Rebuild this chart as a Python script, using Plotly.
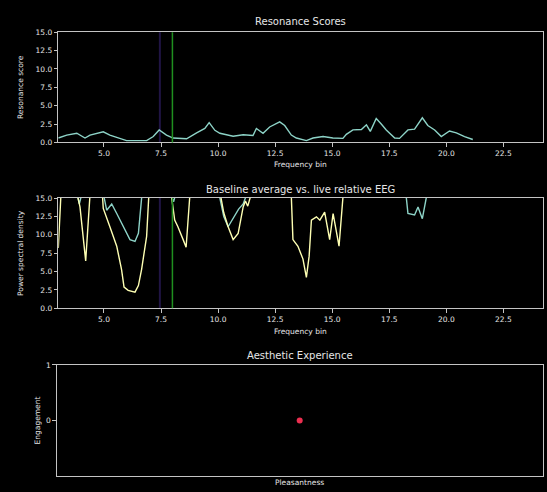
import plotly.graph_objects as go

# ---- data -------------------------------------------------------------
# Resonance score per frequency bin
res_freq = [3.00, 3.37, 3.81, 4.17, 4.39, 4.97, 5.26, 5.70, 5.99, 6.87, 7.16, 7.42,
            7.74, 8.03, 8.62, 9.06, 9.42, 9.61, 9.86, 10.08, 10.66, 11.10, 11.53,
            11.68, 11.97, 12.26, 12.56, 12.70, 12.92, 13.21, 13.43, 13.87, 14.16,
            14.60, 15.03, 15.47, 15.62, 15.91, 16.28, 16.50, 16.67, 16.93, 17.15,
            17.37, 17.74, 17.95, 18.32, 18.61, 18.95, 19.19, 19.49, 19.78, 20.14,
            20.44, 20.80, 21.16]
res_score = [0.6, 1.0, 1.25, 0.6, 1.0, 1.45, 1.0, 0.55, 0.25, 0.25, 0.8, 1.7,
             1.0, 0.6, 0.5, 1.3, 1.9, 2.7, 1.65, 1.25, 0.85, 1.05, 0.95,
             1.9, 1.25, 2.1, 2.6, 2.8, 2.3, 1.0, 0.6, 0.25, 0.6,
             0.8, 0.6, 0.55, 1.1, 1.7, 1.75, 2.4, 1.5, 3.25, 2.5,
             1.7, 0.6, 0.55, 1.7, 1.8, 3.35, 2.3, 1.7, 0.8, 1.55,
             1.3, 0.8, 0.4]

# Baseline average power spectral density
base_freq = [3.00, 3.70, 3.85, 3.92, 4.00, 4.10, 4.90, 5.00, 5.12, 5.34, 5.56, 5.84,
             6.14, 6.36, 6.51, 6.65, 6.80, 7.90, 7.97, 8.05, 8.12, 8.30, 9.90,
             10.08, 10.25, 10.44, 10.71, 10.90, 11.10, 11.22, 11.40, 18.10, 18.25,
             18.32, 18.61, 18.76, 18.95, 19.12, 19.30, 21.20]
base_psd = [20.0, 22.0, 15.2, 14.2, 15.2, 22.0, 22.0, 15.2, 13.35, 14.2, 12.9, 11.1,
            9.35, 9.1, 10.2, 15.0, 24.0, 22.0, 15.1, 14.5, 15.3, 22.0, 22.0,
            15.0, 12.5, 11.1, 12.5, 13.5, 14.2, 15.2, 22.0, 22.0, 15.0,
            12.9, 12.7, 13.8, 12.2, 15.0, 22.0, 22.0]

# Live relative power spectral density
live_freq = [3.00, 3.12, 3.25, 3.70, 3.83, 3.95, 4.20, 4.39, 4.55, 4.80, 4.92, 4.97,
             5.26, 5.56, 5.77, 5.88, 6.06, 6.36, 6.51, 6.65, 6.87, 7.01, 7.15,
             7.80, 7.96, 8.10, 8.24, 8.47, 8.60, 8.76, 8.90, 9.90, 10.10, 10.25,
             10.44, 10.66, 10.88, 11.10, 11.20, 11.30, 11.42, 11.50, 13.00, 13.21,
             13.28, 13.50, 13.72, 13.87, 13.99, 14.09, 14.31, 14.46, 14.67, 14.89,
             15.04, 15.30, 15.40, 15.55, 15.70, 21.20]
live_psd = [8.2, 15.0, 24.0, 26.0, 15.5, 13.8, 6.45, 15.5, 24.0, 22.0, 15.5, 13.6,
            11.1, 8.45, 5.3, 2.9, 2.45, 2.2, 3.1, 5.3, 9.8, 15.0, 26.0,
            24.0, 15.2, 12.0, 11.1, 9.35, 8.3, 15.2, 26.0, 24.0, 15.5, 13.0,
            11.1, 9.35, 10.2, 13.8, 14.6, 13.9, 15.2, 25.0, 25.0, 15.2,
            9.35, 8.45, 6.7, 4.2, 7.1, 12.0, 12.45, 12.0, 13.1, 9.35,
            12.9, 8.45, 11.1, 15.0, 24.0, 22.0]

# Current aesthetic state
pleasantness = [0.0]
engagement = [0.0]

marker_freq = 8.0
peak_freq = 7.45
freq_ticks = [5.0, 7.5, 10.0, 12.5, 15.0, 17.5, 20.0, 22.5]
psd_ticks = [0.0, 2.5, 5.0, 7.5, 10.0, 12.5, 15.0]

# ---- styling ----------------------------------------------------------
W, H = 547, 492
BG = "#000000"
AXIS = "#c4c4c4"
TEXT = "#e6e6e6"
TEAL = "#8dd3c7"
YELLOW = "#feffb3"
FONT = "DejaVu Sans"


def fx(p):
    return p / W


def fy(p):
    return 1 - p / H


fig = go.Figure()

fig.add_trace(go.Scatter(x=res_freq, y=res_score, mode="lines",
                         line=dict(color=TEAL, width=1.4),
                         xaxis="x", yaxis="y", showlegend=False))
fig.add_trace(go.Scatter(x=base_freq, y=base_psd, mode="lines",
                         line=dict(color=TEAL, width=1.4),
                         xaxis="x2", yaxis="y2", showlegend=False))
fig.add_trace(go.Scatter(x=live_freq, y=live_psd, mode="lines",
                         line=dict(color=YELLOW, width=1.4),
                         xaxis="x2", yaxis="y2", showlegend=False))
fig.add_trace(go.Scatter(x=pleasantness, y=engagement, mode="markers",
                         marker=dict(color="#ec2f50", size=6, line=dict(width=0)),
                         xaxis="x3", yaxis="y3", showlegend=False))

common_axis = dict(showline=True, mirror=True, linecolor=AXIS, linewidth=1,
                   ticks="outside", ticklen=3.5, tickcolor=AXIS, tickwidth=1,
                   showgrid=False, zeroline=False,
                   tickfont=dict(family=FONT, size=7.5, color=TEXT))

freq_axis = dict(common_axis, range=[3.0, 24.25], tickvals=freq_ticks,
                 tickformat=".1f")
psd_axis = dict(common_axis, range=[0, 15], tickvals=psd_ticks,
                tickformat=".1f")

fig.update_layout(
    width=W, height=H,
    margin=dict(l=0, r=0, t=0, b=0),
    paper_bgcolor=BG, plot_bgcolor=BG,
    xaxis=dict(freq_axis, domain=[fx(58.3), fx(543.3)], anchor="y"),
    yaxis=dict(psd_axis, domain=[fy(141), fy(28.7)], anchor="x"),
    xaxis2=dict(freq_axis, domain=[fx(58.3), fx(543.3)], anchor="y2"),
    yaxis2=dict(psd_axis, domain=[fy(310), fy(197.7)], anchor="x2"),
    xaxis3=dict(common_axis, domain=[fx(56.7), fx(542.7)], anchor="y3",
                range=[-1, 1], ticks="", showticklabels=False),
    yaxis3=dict(common_axis, domain=[fy(480.7), fy(367.7)], anchor="x3",
                range=[-1, 1], tickvals=[0, 1], ticktext=["0", "1"]),
)

# Faint peak marker and target frequency line in both spectral panels
for xr, yr in (("x", "y"), ("x2", "y2")):
    fig.add_shape(type="line", xref=xr, yref=f"{yr} domain",
                  x0=peak_freq, x1=peak_freq, y0=0, y1=1,
                  line=dict(color="rgba(70,45,150,0.45)", width=2), layer="below")
    fig.add_shape(type="line", xref=xr, yref=f"{yr} domain",
                  x0=marker_freq, x1=marker_freq, y0=0, y1=1,
                  line=dict(color="#1f8f1f", width=1.5))

# Titles and axis labels
texts = [
    ("Resonance Scores", 300.8, 18.3, 10, 0),
    ("Frequency bin", 300.8, 163.5, 7.5, 0),
    ("Resonance score", 20.7, 84.9, 7.5, -90),
    ("Baseline average vs. live relative EEG", 300.8, 189.0, 10, 0),
    ("Frequency bin", 300.8, 334.0, 7.5, 0),
    ("Power spectral density", 20.7, 253.9, 7.5, -90),
    ("Aesthetic Experience", 299.7, 358.5, 10, 0),
    ("Pleasantness", 299.7, 487.0, 7.5, 0),
    ("Engagement", 37.0, 424.2, 7.5, -90),
]
for txt, x, y, size, ang in texts:
    fig.add_annotation(text=txt, xref="paper", yref="paper", x=fx(x), y=fy(y),
                       xanchor="center", yanchor="middle", showarrow=False,
                       textangle=ang, font=dict(family=FONT, size=size, color=TEXT))

fig.write_html("out.html")
